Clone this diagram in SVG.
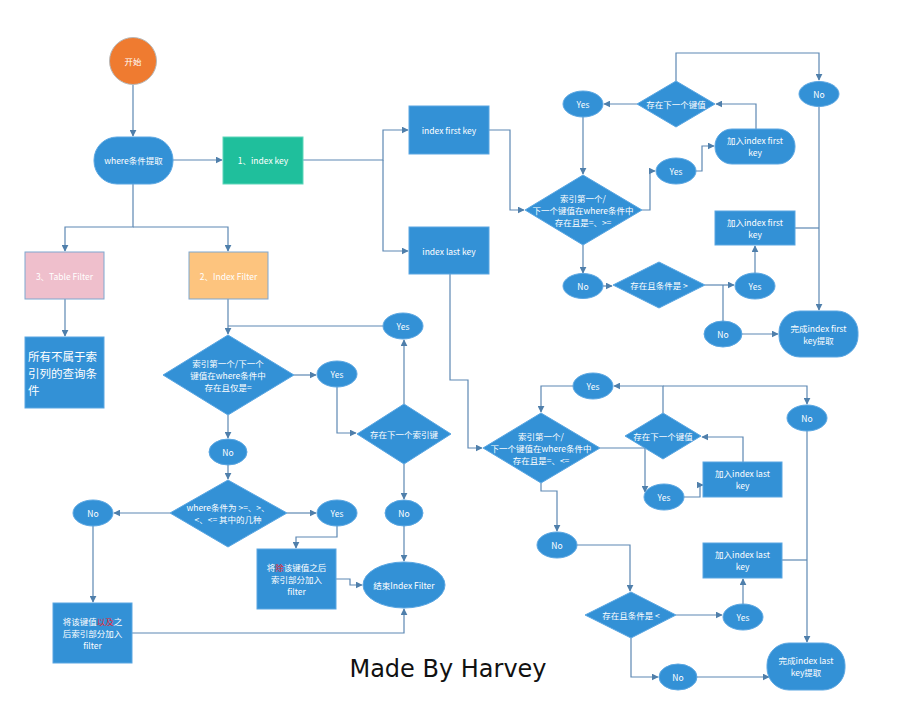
<svg xmlns="http://www.w3.org/2000/svg" width="906" height="711" viewBox="0 0 906 711">
<defs>
<marker id="arr" viewBox="0 0 10 10" refX="9" refY="5" markerWidth="7" markerHeight="7" orient="auto" markerUnits="userSpaceOnUse">
<path d="M0,0 L10,5 L0,10 z" fill="#4f7fab"/>
</marker>
<style>
.n{fill:#3391d6;stroke:#5aa6e2;stroke-width:1}
.t{font-family:"Noto Sans CJK SC","Liberation Sans",sans-serif;font-size:8.5px;fill:#ffffff;text-anchor:middle;dominant-baseline:central}
.big{font-family:"Noto Sans CJK SC",sans-serif;font-size:11.5px;fill:#ffffff}
.c path{fill:none;stroke:#5d88b3;stroke-width:1.2}
.a{marker-end:url(#arr)}
.red{fill:#e8262f}
</style>
</defs>
<rect width="906" height="711" fill="#ffffff"/>

<g class="c" id="connectors">
<path class="a" d="M133,85 L133,136"/>
<path class="a" d="M173,160 L222,160"/>
<path class="a" d="M303,160 L383,160 L383,130 L408,130"/>
<path class="a" d="M383,160 L383,251 L408,251"/>
<path class="a" d="M133,184 L133,227 L65,227 L65,251"/>
<path class="a" d="M133,227 L228,227 L228,251"/>
<path class="a" d="M65,299 L65,336"/>
<path class="a" d="M228,299 L228,334"/>
<path d="M383,326 L228,326"/>
<path class="a" d="M294,375 L316,375"/>
<path class="a" d="M337,387 L337,433 L356,433"/>
<path class="a" d="M404,404 L404,340"/>
<path class="a" d="M404,464 L404,499"/>
<path class="a" d="M404,526 L404,561"/>
<path class="a" d="M228,415 L228,438"/>
<path class="a" d="M228,465 L228,479"/>
<path class="a" d="M170,513 L114,513"/>
<path class="a" d="M287,513 L316,513"/>
<path class="a" d="M337,526 L337,537 L296,537 L296,548"/>
<path class="a" d="M336,579 L350,579 L350,585 L362,585"/>
<path class="a" d="M93,526 L93,602"/>
<path class="a" d="M132,633 L404,633 L404,609"/>

<path class="a" d="M489,130 L510,130 L510,210 L524,210"/>
<path class="a" d="M637,104 L604,104"/>
<path class="a" d="M583,117 L583,174"/>
<path class="a" d="M676,81 L676,53 L819,53 L819,80"/>
<path class="a" d="M819,106 L819,310"/>
<path class="a" d="M642,210 L650,210 L650,171 L655,171"/>
<path class="a" d="M696,171 L702,171 L702,146 L714,146"/>
<path class="a" d="M756,129 L756,104 L716,104"/>
<path d="M795,228 L819,228"/>
<path class="a" d="M583,245 L583,273"/>
<path class="a" d="M603,286 L612,286"/>
<path class="a" d="M705,285 L734,285"/>
<path d="M723,285 L723,321"/>
<path class="a" d="M755,273 L755,246"/>
<path class="a" d="M742,334 L778,334"/>

<path class="a" d="M450,274 L450,380 L468,380 L468,448 L482,448"/>
<path class="a" d="M663,413 L663,386 L614,386"/>
<path class="a" d="M663,386 L807,386 L807,404"/>
<path class="a" d="M573,386 L541,386 L541,412"/>
<path class="a" d="M600,448 L645,448 L645,492"/>
<path class="a" d="M684,497 L700,497 L700,485 L703,485"/>
<path class="a" d="M743,462 L743,437 L702,437"/>
<path class="a" d="M807,431 L807,642"/>
<path class="a" d="M541,483 L541,491 L557,491 L557,531"/>
<path class="a" d="M577,545 L630,545 L630,591"/>
<path class="a" d="M676,615 L722,615"/>
<path class="a" d="M743,604 L743,579"/>
<path d="M782,560 L807,560"/>
<path class="a" d="M631,638 L631,677 L658,677"/>
<path class="a" d="M697,677 L769,677"/>
</g>

<g id="start"><circle cx="133" cy="61" r="23.5" fill="#ef7b30" stroke="#b8b8b8" stroke-width="1"/><text class="t" x="133" y="61">开始</text></g>
<g id="where"><rect class="n" x="94" y="137" width="79" height="47" rx="23"/><text class="t" x="133.5" y="160">where条件提取</text></g>
<g id="indexkey"><rect x="223" y="137" width="80" height="47" fill="#1fbf9c" stroke="#5fd6ba"/><text class="t" x="263" y="160">1、index key</text></g>
<g id="tablefilter"><rect x="25" y="252" width="79" height="47" fill="#efbfcc" stroke="#7fa7cf"/><text class="t" x="64.5" y="276">3、Table Filter</text></g>
<g id="indexfilter"><rect x="189" y="252" width="79" height="47" fill="#fdc47e" stroke="#7fa7cf"/><text class="t" x="228.5" y="276">2、Index Filter</text></g>
<g id="tablecond"><rect class="n" x="25" y="337" width="79" height="71"/>
<text class="big" x="28" y="361">所有不属于索</text>
<text class="big" x="28" y="378">引列的查询条</text>
<text class="big" x="28" y="395">件</text></g>

<g id="ifdiamond"><polygon class="n" points="228,335 294,375 228,415 163,375"/>
<text class="t" x="228" y="363">索引第一个/下一个</text><text class="t" x="228" y="375">键值在where条件中</text><text class="t" x="228" y="387">存在且仅是=</text></g>
<g id="ifyes1"><ellipse class="n" cx="337" cy="374" rx="20" ry="13"/><text class="t" x="337" y="374">Yes</text></g>
<g id="ifnextkey"><polygon class="n" points="404,404 451,434 404,464 357,434"/><text class="t" x="404" y="434">存在下一个索引键</text></g>
<g id="ifyes2"><ellipse class="n" cx="403" cy="326" rx="20" ry="13"/><text class="t" x="403" y="326">Yes</text></g>
<g id="ifno2"><ellipse class="n" cx="404" cy="513" rx="19" ry="13"/><text class="t" x="404" y="513">No</text></g>
<g id="ifend"><ellipse class="n" cx="404" cy="585" rx="41" ry="23"/><text class="t" x="404" y="585">结束Index Filter</text></g>
<g id="ifno1"><ellipse class="n" cx="228" cy="452" rx="19" ry="13"/><text class="t" x="228" y="452">No</text></g>
<g id="ifcond"><polygon class="n" points="228,480 287,513 228,547 170,513"/>
<text class="t" x="228" y="507">where条件为 &gt;=、&gt;、</text><text class="t" x="228" y="519">&lt;、&lt;= 其中的几种</text></g>
<g id="ifno3"><ellipse class="n" cx="93" cy="513" rx="20" ry="13"/><text class="t" x="93" y="513">No</text></g>
<g id="ifyes3"><ellipse class="n" cx="337" cy="513" rx="20" ry="13"/><text class="t" x="337" y="513">Yes</text></g>
<g id="ifaddafter"><rect class="n" x="257" y="549" width="79" height="60"/>
<text class="t" x="296.5" y="567">将<tspan class="red">除</tspan>该键值之后</text><text class="t" x="296.5" y="579">索引部分加入</text><text class="t" x="296.5" y="591">filter</text></g>
<g id="ifaddwith"><rect class="n" x="53" y="603" width="79" height="60"/>
<text class="t" x="92.5" y="621">将该键值<tspan class="red">以及</tspan>之</text><text class="t" x="92.5" y="633">后索引部分加入</text><text class="t" x="92.5" y="645">filter</text></g>

<g id="firstkey"><rect class="n" x="409" y="106" width="80" height="48"/><text class="t" x="449" y="130">index first key</text></g>
<g id="fdiamond"><polygon class="n" points="583,175 642,210 583,245 525,210"/>
<text class="t" x="583" y="198">索引第一个/</text><text class="t" x="583" y="210">下一个键值在where条件中</text><text class="t" x="583" y="222">存在且是=、&gt;=</text></g>
<g id="fyes1"><ellipse class="n" cx="583" cy="104" rx="20" ry="13"/><text class="t" x="583" y="104">Yes</text></g>
<g id="fnext"><polygon class="n" points="676,81 715,104 676,127 637,104"/><text class="t" x="676" y="104">存在下一个键值</text></g>
<g id="fno1"><ellipse class="n" cx="819" cy="94" rx="20" ry="12.5"/><text class="t" x="819" y="94">No</text></g>
<g id="fyes2"><ellipse class="n" cx="676" cy="171" rx="20" ry="13"/><text class="t" x="676" y="171">Yes</text></g>
<g id="fadd1"><rect class="n" x="715" y="129" width="80" height="35" rx="17"/><text class="t" x="755" y="140">加入index first</text><text class="t" x="755" y="152">key</text></g>
<g id="fadd2"><rect class="n" x="715" y="211" width="80" height="34"/><text class="t" x="755" y="222">加入index first</text><text class="t" x="755" y="234">key</text></g>
<g id="fno2"><ellipse class="n" cx="583" cy="286" rx="20" ry="12.5"/><text class="t" x="583" y="286">No</text></g>
<g id="fgt"><polygon class="n" points="659,262 705,285 659,308 613,285"/><text class="t" x="659" y="285">存在且条件是 &gt;</text></g>
<g id="fyes3"><ellipse class="n" cx="755" cy="286" rx="20" ry="13"/><text class="t" x="755" y="286">Yes</text></g>
<g id="fno3"><ellipse class="n" cx="723" cy="334" rx="19" ry="13"/><text class="t" x="723" y="334">No</text></g>
<g id="fdone"><rect class="n" x="779" y="311" width="79" height="46" rx="21"/><text class="t" x="818.5" y="328">完成index first</text><text class="t" x="818.5" y="340">key提取</text></g>

<g id="lastkey"><rect class="n" x="409" y="227" width="80" height="47"/><text class="t" x="449" y="251">index last key</text></g>
<g id="ldiamond"><polygon class="n" points="541,413 600,448 541,483 483,448"/>
<text class="t" x="541" y="436">索引第一个/</text><text class="t" x="541" y="448">下一个键值在where条件中</text><text class="t" x="541" y="460">存在且是=、&lt;=</text></g>
<g id="lyes1"><ellipse class="n" cx="593" cy="386" rx="20" ry="13"/><text class="t" x="593" y="386">Yes</text></g>
<g id="lnext"><polygon class="n" points="663,413 701,436 663,459 625,436"/><text class="t" x="663" y="436">存在下一个键值</text></g>
<g id="lno1"><ellipse class="n" cx="807" cy="418" rx="20" ry="13"/><text class="t" x="807" y="418">No</text></g>
<g id="lyes2"><ellipse class="n" cx="664" cy="497" rx="20" ry="13"/><text class="t" x="664" y="497">Yes</text></g>
<g id="ladd1"><rect class="n" x="703" y="462" width="79" height="35"/><text class="t" x="742.5" y="473">加入index last</text><text class="t" x="742.5" y="485">key</text></g>
<g id="lno2"><ellipse class="n" cx="557" cy="545" rx="20" ry="13"/><text class="t" x="557" y="545">No</text></g>
<g id="llt"><polygon class="n" points="631,592 676,615 631,638 585,615"/><text class="t" x="631" y="615">存在且条件是 &lt;</text></g>
<g id="lyes3"><ellipse class="n" cx="743" cy="617" rx="20" ry="13"/><text class="t" x="743" y="617">Yes</text></g>
<g id="ladd2"><rect class="n" x="703" y="543" width="79" height="35"/><text class="t" x="742.5" y="554">加入index last</text><text class="t" x="742.5" y="566">key</text></g>
<g id="lno3"><ellipse class="n" cx="678" cy="677" rx="19" ry="13"/><text class="t" x="678" y="677">No</text></g>
<g id="ldone"><rect class="n" x="767" y="643" width="78" height="47" rx="22"/><text class="t" x="806" y="660">完成index last</text><text class="t" x="806" y="672">key提取</text></g>

<text x="448" y="677" font-family="DejaVu Sans, sans-serif" font-size="24" fill="#111111" text-anchor="middle">Made By Harvey</text>
</svg>
